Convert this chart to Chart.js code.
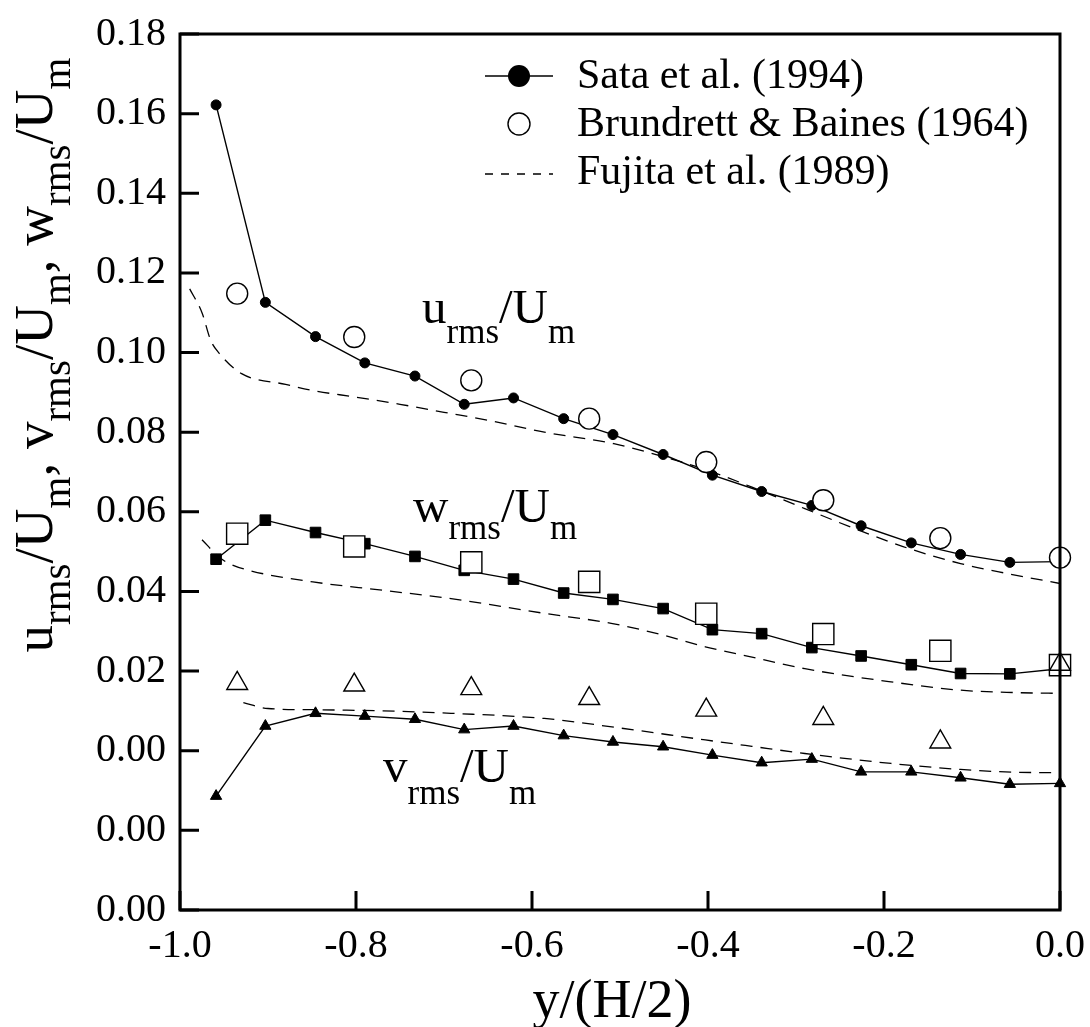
<!DOCTYPE html>
<html><head><meta charset="utf-8">
<script src="https://cdn.jsdelivr.net/npm/chart.js@4.4.0/dist/chart.umd.min.js"></script>
<style>html,body{margin:0;padding:0;background:#fff;}</style>
</head><body>
<canvas id="c" width="1090" height="1027"></canvas>
<script>
// ---- data ----
const sataX = [-0.959, -0.903, -0.846, -0.790, -0.733, -0.677, -0.621, -0.564, -0.508, -0.451, -0.395, -0.339, -0.282, -0.226, -0.169, -0.113, -0.057, 0.0];
const sataU = [0.1622, 0.1126, 0.1040, 0.0974, 0.0941, 0.0870, 0.0886, 0.0834, 0.0794, 0.0744, 0.0692, 0.0651, 0.0616, 0.0565, 0.0522, 0.0493, 0.0473, 0.0475];
const sataW = [0.0481, 0.0579, 0.0548, 0.0520, 0.0488, 0.0453, 0.0431, 0.0396, 0.0380, 0.0357, 0.0304, 0.0294, 0.0259, 0.0238, 0.0216, 0.0194, 0.0193, 0.0206];
const sataV = [-0.0114, 0.0062, 0.0094, 0.0087, 0.0079, 0.0053, 0.0062, 0.0038, 0.0022, 0.0010, -0.0011, -0.0030, -0.0021, -0.0053, -0.0053, -0.0068, -0.0084, -0.0082];

const bbX = [-0.935, -0.802, -0.669, -0.535, -0.402, -0.269, -0.136, 0.0];
const bbU = [0.1148, 0.1039, 0.0930, 0.0834, 0.0725, 0.0629, 0.0534, 0.0485];
const bbW = [0.0545, 0.0513, 0.0473, 0.0424, 0.0344, 0.0293, 0.0251, 0.0215];
const bbV = [0.0169, 0.0165, 0.0156, 0.0131, 0.0102, 0.0081, 0.0022, 0.0217];

const fuUX = [-0.989, -0.975, -0.965, -0.955, -0.930, -0.880, -0.850, -0.800, -0.750, -0.700, -0.650, -0.586, -0.507, -0.450, -0.400, -0.350, -0.290, -0.230, -0.172, -0.113, -0.060, 0.0];
const fuU  = [0.1160, 0.1100, 0.1030, 0.0997, 0.0947, 0.0920, 0.0905, 0.0888, 0.0870, 0.0850, 0.0830, 0.0800, 0.0771, 0.0738, 0.0704, 0.0662, 0.0608, 0.0555, 0.0508, 0.0470, 0.0445, 0.0420];
const fuWX = [-0.975, -0.955, -0.944, -0.920, -0.849, -0.770, -0.692, -0.586, -0.510, -0.450, -0.403, -0.350, -0.290, -0.192, -0.113, -0.050, 0.0];
const fuW  = [0.0530, 0.0485, 0.0470, 0.0452, 0.0424, 0.0403, 0.0382, 0.0345, 0.0320, 0.0290, 0.0261, 0.0235, 0.0206, 0.0173, 0.0152, 0.0146, 0.0144];
const fuVX = [-0.928, -0.900, -0.850, -0.815, -0.750, -0.692, -0.586, -0.500, -0.403, -0.350, -0.290, -0.192, -0.113, -0.050, 0.0];
const fuV  = [0.0121, 0.0106, 0.0103, 0.0102, 0.0099, 0.0094, 0.0081, 0.0057, 0.0027, 0.0011, -0.0007, -0.0032, -0.0047, -0.0054, -0.0055];

const xTickLabels = ['-1.0', '-0.8', '-0.6', '-0.4', '-0.2', '0.0'];
const yTickLabels = ['0.00', '0.00', '0.00', '0.02', '0.04', '0.06', '0.08', '0.10', '0.12', '0.14', '0.16', '0.18'];
const legendLabels = ['Sata et al. (1994)', 'Brundrett & Baines (1964)', 'Fujita et al. (1989)'];

// ---- build ----
const pts = (xs, ys) => xs.map((x, i) => ({x: x, y: ys[i]}));
const SERIF = "'Liberation Serif', 'Times New Roman', serif";

function sataDS(ys, style, r) {
  return {data: pts(sataX, ys), showLine: true, borderColor: '#000', borderWidth: 1.4,
    pointStyle: style, pointRadius: r, pointBackgroundColor: '#000', pointBorderColor: '#000',
    pointBorderWidth: 1, clip: false, order: 2};
}
function bbDS(ys, style, r, ord) {
  return {data: pts(bbX, ys), showLine: false, borderColor: '#000',
    pointStyle: style, pointRadius: r, pointBackgroundColor: '#fff', pointBorderColor: '#000',
    pointBorderWidth: 1.4, clip: false, order: ord};
}
function fuDS(xs, ys) {
  return {data: pts(xs, ys), showLine: true, borderColor: '#000', borderWidth: 1.3,
    borderDash: [12, 8], pointRadius: 0, cubicInterpolationMode: 'monotone', clip: false, order: 3};
}

function drawRich(ctx, x, y, segs, F, S, off) {
  let cx = x;
  for (const [t, sub] of segs) {
    ctx.font = (sub ? S : F) + 'px ' + SERIF;
    ctx.fillText(t, cx, sub ? y + off : y);
    cx += ctx.measureText(t).width;
  }
  return cx - x;
}
function richWidth(ctx, segs, F, S) {
  let w = 0;
  for (const [t, sub] of segs) { ctx.font = (sub ? S : F) + 'px ' + SERIF; w += ctx.measureText(t).width; }
  return w;
}

const decor = {
  id: 'decor',
  afterDraw(chart) {
    const ctx = chart.ctx, a = chart.chartArea;
    const xs = chart.scales.x, ys = chart.scales.y;
    ctx.save();
    ctx.strokeStyle = '#000'; ctx.fillStyle = '#000';
    // frame
    ctx.lineWidth = 3;
    ctx.strokeRect(a.left, a.top, a.right - a.left, a.bottom - a.top);
    // inward ticks
    ctx.lineWidth = 3;
    ctx.beginPath();
    ys.ticks.forEach(t => { const p = ys.getPixelForValue(t.value); ctx.moveTo(a.left, p); ctx.lineTo(a.left + 19, p); });
    xs.ticks.forEach(t => { const p = xs.getPixelForValue(t.value); ctx.moveTo(p, a.bottom); ctx.lineTo(p, a.bottom - 19); });
    ctx.stroke();
    // curve labels
    ctx.textBaseline = 'alphabetic'; ctx.textAlign = 'left';
    drawRich(ctx, 422, 323, [['u'], ['rms', 1], ['/U'], ['m', 1]], 49, 35, 20);
    drawRich(ctx, 413, 522, [['w'], ['rms', 1], ['/U'], ['m', 1]], 49, 35, 17);
    drawRich(ctx, 383, 782, [['v'], ['rms', 1], ['/U'], ['m', 1]], 49, 35, 22);
    // legend
    ctx.lineWidth = 1.4;
    ctx.beginPath(); ctx.moveTo(485, 76); ctx.lineTo(553, 76); ctx.stroke();
    ctx.beginPath(); ctx.arc(519, 76, 11, 0, Math.PI * 2); ctx.fill();
    ctx.beginPath(); ctx.arc(519, 124, 11, 0, Math.PI * 2); ctx.stroke();
    ctx.setLineDash([8, 8]);
    ctx.beginPath(); ctx.moveTo(485, 174); ctx.lineTo(553, 174); ctx.stroke();
    ctx.setLineDash([]);
    ctx.font = '42px ' + SERIF;
    legendLabels.forEach((t, i) => ctx.fillText(t, 577, 88 + i * 48));
    // x title
    ctx.font = '54px ' + SERIF; ctx.textAlign = 'center';
    ctx.fillText('y/(H/2)', 612, 1017);
    // y title (rotated)
    ctx.textAlign = 'left';
    const seg = [['u'], ['rms', 1], ['/U'], ['m', 1], [', v'], ['rms', 1], ['/U'], ['m', 1], [', w'], ['rms', 1], ['/U'], ['m', 1]];
    const F = 55, S = 41;
    const w = richWidth(ctx, seg, F, S);
    ctx.translate(52, 355);
    ctx.rotate(-Math.PI / 2);
    drawRich(ctx, -w / 2, 0, seg, F, S, 18);
    ctx.restore();
  }
};

new Chart(document.getElementById('c'), {
  type: 'scatter',
  data: {
    datasets: [
      bbDS(bbV, 'triangle', 12, 0),
      bbDS(bbW, 'rect', 15, 1),
      bbDS(bbU, 'circle', 10.5, 1),
      sataDS(sataU, 'circle', 5),
      sataDS(sataW, 'rect', 7.5),
      sataDS(sataV, 'triangle', 6.5),
      fuDS(fuUX, fuU),
      fuDS(fuWX, fuW),
      fuDS(fuVX, fuV)
    ]
  },
  options: {
    responsive: false, animation: false, devicePixelRatio: 1,
    layout: {padding: {top: 34, right: 30, left: 0, bottom: 0}},
    plugins: {legend: {display: false}, tooltip: {enabled: false}},
    elements: {line: {tension: 0}},
    scales: {
      x: {
        type: 'linear', min: -1, max: 0,
        grid: {display: false, drawTicks: false}, border: {display: false},
        ticks: {stepSize: 0.2, autoSkip: false, maxRotation: 0, padding: 12, color: '#000',
          font: {family: SERIF, size: 40},
          callback: (v, i) => xTickLabels[i]},
        afterFit: s => { s.height = 117; s.paddingLeft = 0; s.paddingRight = 0; }
      },
      y: {
        type: 'linear', min: -0.04, max: 0.18,
        grid: {display: false, drawTicks: false}, border: {display: false},
        ticks: {stepSize: 0.02, autoSkip: false, padding: 14, color: '#000',
          font: {family: SERIF, size: 40},
          callback: (v, i) => yTickLabels[i]},
        afterFit: s => { s.width = 180; s.paddingTop = 0; s.paddingBottom = 0; }
      }
    }
  },
  plugins: [decor]
});
</script>
</body></html>
